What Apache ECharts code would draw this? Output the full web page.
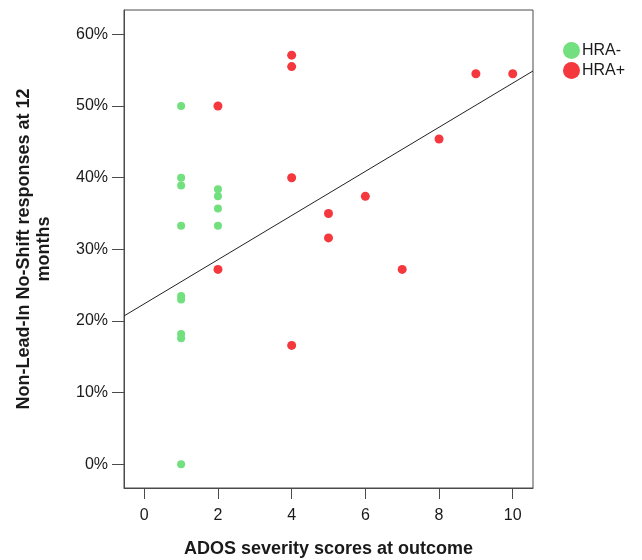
<!DOCTYPE html>
<html>
<head>
<meta charset="utf-8">
<script src="https://cdn.jsdelivr.net/npm/echarts@6/dist/echarts.min.js"></script>
<style>html,body{margin:0;padding:0;background:#fff}#c{width:642px;height:560px}</style>
</head>
<body>
<div id="c"></div>
<script>
// ADOS severity score (x) vs % Non-Lead-In No-Shift responses at 12 months (y)
const hraMinus = [
  [1, 50.0], [1, 40.0], [1, 38.9], [1, 33.3], [1, 23.5], [1, 23.0],
  [1, 18.2], [1, 17.6], [1, 0.0],
  [2, 38.4], [2, 37.4], [2, 35.7], [2, 33.3]
];
const hraPlus = [
  [2, 50.0], [2, 27.2],
  [4, 57.1], [4, 55.5], [4, 40.0], [4, 16.6],
  [5, 35.0], [5, 31.6],
  [6, 37.4], [7, 27.2], [8, 45.4], [9, 54.5], [10, 54.5]
];
const seriesNames = ['HRA-', 'HRA+'];
const xTicks = [0, 2, 4, 6, 8, 10];
const yTicks = [0, 10, 20, 30, 40, 50, 60];
const xRange = [-0.55, 10.55];
const yRange = [-3.3, 63.4];
// fit line
const fitIntercept = 22.4;
const fitSlope = 3.08;

const fitLine = xRange.map(x => [x, fitIntercept + fitSlope * x]);

const FONT = '"Liberation Sans", Arial, sans-serif';
const TXT = '#1a1a1a';
const AX = '#4a4a4a';

const chart = echarts.init(document.getElementById('c'), null, {renderer: 'canvas'});
chart.setOption({
  animation: false,
  backgroundColor: '#fff',
  grid: {left: 124, right: 109, top: 10, bottom: 72, containLabel: false, outerBoundsMode: 'none',
         show: true, borderColor: AX, borderWidth: 1, backgroundColor: 'transparent'},
  legend: {
    data: seriesNames,
    orient: 'vertical',
    left: 558, top: 37,
    icon: 'circle',
    itemWidth: 17, itemHeight: 17, itemGap: 3,
    textStyle: {fontFamily: FONT, fontSize: 16, color: TXT, padding: [0, 0, 0, -3]}
  },
  xAxis: {
    type: 'value', min: xRange[0], max: xRange[1],
    name: 'ADOS severity scores at outcome',
    nameLocation: 'middle', nameGap: 52,
    nameTextStyle: {fontFamily: FONT, fontSize: 18, fontWeight: 'bold', color: TXT},
    axisLine: {show: true, onZero: false, lineStyle: {color: AX, width: 1}},
    axisTick: {show: true, length: 11, customValues: xTicks, lineStyle: {color: AX}},
    axisLabel: {customValues: xTicks, margin: 20, fontFamily: FONT, fontSize: 16, color: TXT},
    splitLine: {show: false}
  },
  yAxis: {
    type: 'value', min: yRange[0], max: yRange[1],
    name: 'Non-Lead-In No-Shift responses at 12\nmonths',
    nameLocation: 'middle', nameGap: 70, nameRotate: 90,
    nameTextStyle: {fontFamily: FONT, fontSize: 18, fontWeight: 'bold', color: TXT, lineHeight: 20, align: 'center'},
    axisLine: {show: true, onZero: false, lineStyle: {color: AX, width: 1}},
    axisTick: {show: true, length: 12, customValues: yTicks, lineStyle: {color: AX}},
    axisLabel: {customValues: yTicks, margin: 16, fontFamily: FONT, fontSize: 16, color: TXT, formatter: v => v + '%'},
    splitLine: {show: false}
  },
  series: [
    {
      name: 'fit', type: 'line', data: fitLine, showSymbol: false, symbol: 'none', silent: true,
      lineStyle: {color: '#222', width: 1}, z: 1
    },
    {
      name: seriesNames[0], type: 'scatter', data: hraMinus, symbolSize: 8,
      itemStyle: {color: '#72e07e', opacity: 1}, z: 3
    },
    {
      name: seriesNames[1], type: 'scatter', data: hraPlus, symbolSize: 9,
      itemStyle: {color: '#f4383d', opacity: 1}, z: 3
    }
  ]
});
</script>
</body>
</html>
